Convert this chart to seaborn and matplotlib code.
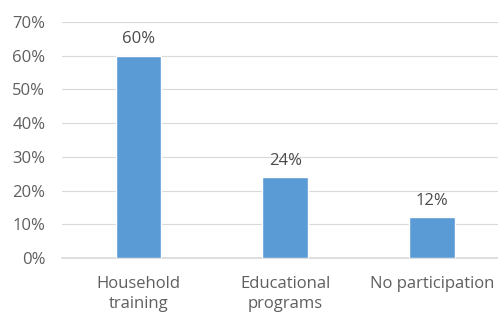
import matplotlib
matplotlib.use("Agg")
import matplotlib.pyplot as plt
import seaborn as sns
import pandas as pd
from matplotlib.ticker import PercentFormatter

categories = ["Household\ntraining", "Educational\nprograms", "No participation"]
values = [0.60, 0.24, 0.12]
labels = ["60%", "24%", "12%"]

sns.set_theme(style="white")
plt.rcParams['font.family'] = ['Open Sans', 'DejaVu Sans']

df = pd.DataFrame({"cat": categories, "val": values})

fig = plt.figure(figsize=(4.98, 3.2), dpi=100)
ax = fig.add_axes([0.1245, 0.194, 0.8755, 0.737])
sns.barplot(data=df, x="cat", y="val", color="#5B9BD5", width=0.31, saturation=1, ax=ax, zorder=3)
ax.set_ylim(0, 0.7)
ax.set_xlim(-0.52, 2.45)
ax.set_yticks([i / 10 for i in range(8)])
ax.yaxis.set_major_formatter(PercentFormatter(1.0, decimals=0))
ax.grid(axis="y", color="#d9d9d9", linewidth=0.8, zorder=0)
for s in ["top", "right", "left"]:
    ax.spines[s].set_visible(False)
ax.spines["bottom"].set_color("#d9d9d9")
ax.set_xlabel("")
ax.set_ylabel("")
ax.tick_params(axis="both", length=0, labelsize=12, colors="#5f5f5f", pad=12)
ax.tick_params(axis="x", pad=13)
for lbl in ax.get_xticklabels():
    lbl.set_linespacing(1.3)
for i, (v, t) in enumerate(zip(values, labels)):
    ax.text(i, v + 0.025, t, ha="center", va="bottom", fontsize=12, color="#4a4a4a")

fig.savefig("out.png", dpi=100)
